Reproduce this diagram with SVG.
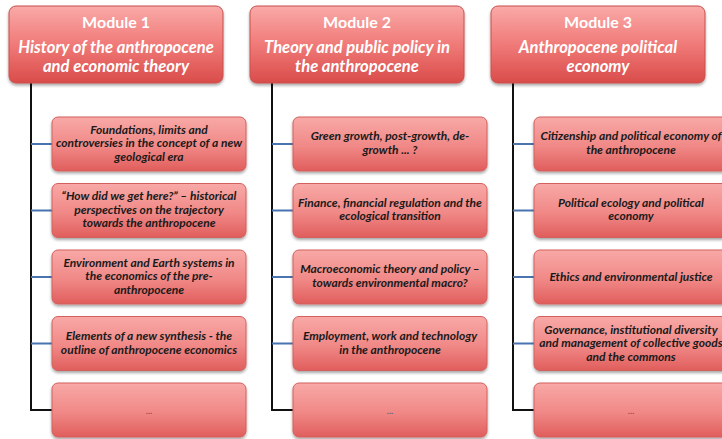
<svg xmlns="http://www.w3.org/2000/svg" width="722" height="439" viewBox="0 0 722 439">
<defs>
<linearGradient id="gh" x1="0" y1="0" x2="0" y2="1">
<stop offset="0" stop-color="#f9aaa8"/>
<stop offset="0.5" stop-color="#f07a78"/>
<stop offset="1" stop-color="#d94c4a"/>
</linearGradient>
<linearGradient id="gc" x1="0" y1="0" x2="0" y2="1">
<stop offset="0" stop-color="#f8a9a7"/>
<stop offset="0.55" stop-color="#f08886"/>
<stop offset="1" stop-color="#e05e5c"/>
</linearGradient>
<filter id="sh" x="-10%" y="-10%" width="120%" height="130%">
<feGaussianBlur in="SourceAlpha" stdDeviation="1.5"/>
<feOffset dy="2" result="b"/>
<feComponentTransfer><feFuncA type="linear" slope="0.35"/></feComponentTransfer>
<feMerge><feMergeNode/><feMergeNode in="SourceGraphic"/></feMerge>
</filter>
</defs>
<style>
.hd{fill:url(#gh);stroke:#c9504d;stroke-width:1;filter:url(#sh)}
.ch{fill:url(#gc);stroke:#d2605d;stroke-width:1;filter:url(#sh)}
.ht{font-family:Lato,"Open Sans","Liberation Sans",sans-serif;font-weight:bold;fill:#fff;text-anchor:middle;font-size:16px}
.hs{font-style:italic;font-size:16.6px}
.ct{font-family:Lato,"Open Sans","Liberation Sans",sans-serif;font-weight:bold;font-style:italic;fill:#1a1a1a;text-anchor:middle;font-size:12px}
.el{font-family:Lato,"Liberation Sans",sans-serif;fill:#555;text-anchor:middle;font-size:9px}
.vl{stroke:#111;stroke-width:2;fill:none}
.bl{stroke:#4a74b0;stroke-width:2;fill:none}
</style>
<rect width="722" height="439" fill="#fff"/>
<g id="connectors">
<path class="vl" d="M31,83 V410 H52"/>
<path class="bl" d="M31,144 H52 M31,210.5 H52 M31,277 H52 M31,343.5 H52"/>
<path class="vl" d="M272,83 V410 H293"/>
<path class="bl" d="M272,144 H293 M272,210.5 H293 M272,277 H293 M272,343.5 H293"/>
<path class="vl" d="M513,83 V410 H534"/>
<path class="bl" d="M513,144 H534 M513,210.5 H534 M513,277 H534 M513,343.5 H534"/>
</g>
<g id="m1">
<rect class="hd" x="9" y="6" width="214" height="77" rx="7"/>
<text class="ht" x="116" y="28">Module 1</text>
<text class="ht hs" x="116" y="52.5">History of the anthropocene</text>
<text class="ht hs" x="116" y="71.5">and economic theory</text>
</g>
<g id="m2">
<rect class="hd" x="250" y="6" width="214" height="77" rx="7"/>
<text class="ht" x="357" y="28">Module 2</text>
<text class="ht hs" x="357" y="52.5">Theory and public policy in</text>
<text class="ht hs" x="357" y="71.5">the anthropocene</text>
</g>
<g id="m3">
<rect class="hd" x="491" y="6" width="214" height="77" rx="7"/>
<text class="ht" x="598" y="28">Module 3</text>
<text class="ht hs" x="598" y="52.5">Anthropocene political</text>
<text class="ht hs" x="598" y="71.5">economy</text>
</g>
<g id="m1c1"><rect class="ch" x="52" y="117" width="194" height="54" rx="6"/>
<text class="ct" x="149" y="133.5">Foundations, limits and</text><text class="ct" x="149" y="147">controversies in the concept of a new</text><text class="ct" x="149" y="160.5">geological era</text></g>
<g id="m1c2"><rect class="ch" x="52" y="183.5" width="194" height="54" rx="6"/>
<text class="ct" x="149" y="200">“How did we get here?” – historical</text><text class="ct" x="149" y="213.5">perspectives on the trajectory</text><text class="ct" x="149" y="227">towards the anthropocene</text></g>
<g id="m1c3"><rect class="ch" x="52" y="250" width="194" height="54" rx="6"/>
<text class="ct" x="149" y="266.5">Environment and Earth systems in</text><text class="ct" x="149" y="280">the economics of the pre-</text><text class="ct" x="149" y="293.5">anthropocene</text></g>
<g id="m1c4"><rect class="ch" x="52" y="316.5" width="194" height="54" rx="6"/>
<text class="ct" x="149" y="340">Elements of a new synthesis  - the</text><text class="ct" x="149" y="353.5">outline of anthropocene economics</text></g>
<g id="m1c5"><rect class="ch" x="52" y="383" width="194" height="54" rx="6"/>
<text class="el" x="149" y="414">...</text></g>
<g id="m2c1"><rect class="ch" x="293" y="117" width="194" height="54" rx="6"/>
<text class="ct" x="390" y="140">Green growth, post-growth, de-</text><text class="ct" x="390" y="153.5">growth ... ?</text></g>
<g id="m2c2"><rect class="ch" x="293" y="183.5" width="194" height="54" rx="6"/>
<text class="ct" x="390" y="206.5">Finance, financial regulation and the</text><text class="ct" x="390" y="220">ecological transition</text></g>
<g id="m2c3"><rect class="ch" x="293" y="250" width="194" height="54" rx="6"/>
<text class="ct" x="390" y="273">Macroeconomic theory and policy –</text><text class="ct" x="390" y="286.5">towards environmental macro?</text></g>
<g id="m2c4"><rect class="ch" x="293" y="316.5" width="194" height="54" rx="6"/>
<text class="ct" x="390" y="340">Employment, work and technology</text><text class="ct" x="390" y="353.5">in the anthropocene</text></g>
<g id="m2c5"><rect class="ch" x="293" y="383" width="194" height="54" rx="6"/>
<text class="el" x="390" y="414">...</text></g>
<g id="m3c1"><rect class="ch" x="534" y="117" width="194" height="54" rx="6"/>
<text class="ct" x="631" y="140">Citizenship and political economy of</text><text class="ct" x="631" y="153.5">the anthropocene</text></g>
<g id="m3c2"><rect class="ch" x="534" y="183.5" width="194" height="54" rx="6"/>
<text class="ct" x="631" y="206.5">Political ecology and political</text><text class="ct" x="631" y="220">economy</text></g>
<g id="m3c3"><rect class="ch" x="534" y="250" width="194" height="54" rx="6"/>
<text class="ct" x="631" y="281">Ethics and environmental justice</text></g>
<g id="m3c4"><rect class="ch" x="534" y="316.5" width="194" height="54" rx="6"/>
<text class="ct" x="631" y="333.5">Governance, institutional diversity</text><text class="ct" x="631" y="347">and management of collective goods</text><text class="ct" x="631" y="360.5">and the commons</text></g>
<g id="m3c5"><rect class="ch" x="534" y="383" width="194" height="54" rx="6"/>
<text class="el" x="631" y="414">...</text></g>
</svg>
